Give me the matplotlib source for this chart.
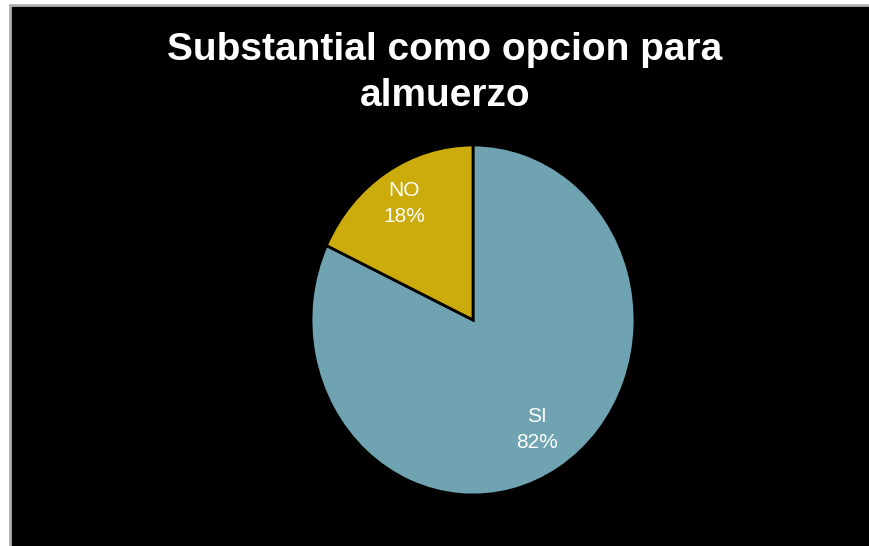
import matplotlib.pyplot as plt
import matplotlib.patches as patches
import numpy as np

etiquetas = ['SI', 'NO']
valores = [82, 18]
colores = ['#6FA3B1', '#CCAC0C']
distancias = [0.74, 0.79]

fig = plt.figure(figsize=(8.7, 5.46), dpi=100)
fig.patch.set_facecolor('white')

# fondo negro con borde gris
fondo = patches.Rectangle((10 / 870, -0.1), 1.2, 1.1 - 5 / 546, transform=fig.transFigure,
                          facecolor='black', edgecolor='#B0B0B0', linewidth=2, zorder=-10)
fig.patches.append(fondo)

ax = fig.add_axes([311 / 870, 1 - 495 / 546, 324 / 870, 350 / 546])
ax.set_facecolor('none')

wedges, _ = ax.pie(valores, colors=colores, startangle=90, counterclock=False,
                   wedgeprops=dict(edgecolor='black', linewidth=2))
ax.set_aspect('auto')
ax.set_xlim(-1, 1)
ax.set_ylim(-1, 1)
ax.axis('off')

for w, et, v, d in zip(wedges, etiquetas, valores, distancias):
    ang = np.deg2rad((w.theta1 + w.theta2) / 2)
    ax.text(d * np.cos(ang), d * np.sin(ang), f'{et}\n{v}%', ha='center', va='center',
            color='white', fontsize=15, family='Liberation Sans', linespacing=1.45)

fig.text(445 / 870, 1 - 73 / 546, 'Substantial como opcion para\nalmuerzo', ha='center',
         va='center', color='white', fontsize=28, fontweight='bold',
         family='Liberation Sans', linespacing=1.35)

fig.savefig('out.png', dpi=100)
